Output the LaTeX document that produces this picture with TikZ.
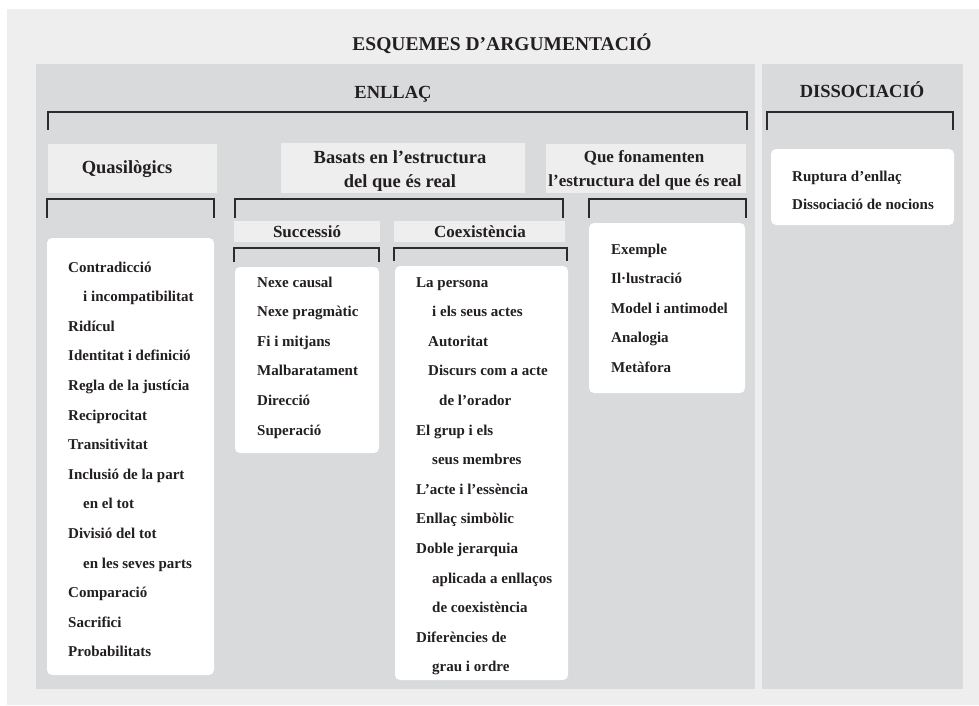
\documentclass[tikz,border=0pt]{standalone}
\usepackage{fontspec}
\setmainfont{Liberation Serif}
\usepackage{xcolor}
\definecolor{bgout}{HTML}{EEEEEE}
\definecolor{bgpanel}{HTML}{D9DADC}
\definecolor{bghead}{HTML}{EEEEEE}
\definecolor{ink}{HTML}{231F20}
\definecolor{brk}{HTML}{2B2B2B}

\begin{document}
\begin{tikzpicture}[x=1pt, y=-1pt,
  head/.style={font=\bfseries\fontsize{18.5}{22}\selectfont, text=ink, inner sep=0pt, anchor=base},
  subhead/.style={head, font=\bfseries\fontsize{17}{20}\selectfont},
  item/.style={font=\bfseries\fontsize{15}{18}\selectfont, text=ink, inner sep=0pt, anchor=base west},
  bracket/.style={draw=brk, line width=1.6pt},
  card/.style={fill=white, rounded corners=5}]
\useasboundingbox (0,0) rectangle (979,705);
% backgrounds
\fill[bgout] (7,9) rectangle (979,705);
\fill[bgpanel] (36,64) rectangle (755,689);
\fill[bgpanel] (762,64) rectangle (963,689);
\fill[bghead] (48,144) rectangle (217,193);
\fill[bghead] (281,143) rectangle (525,193);
\fill[bghead] (546,144) rectangle (746,193);
\fill[bghead] (234,221) rectangle (380,242);
\fill[bghead] (394,221) rectangle (565,242);
\fill[card] (47,238) rectangle (214,675);
\fill[card] (235,267) rectangle (379,453);
\fill[card] (395,266) rectangle (568,680);
\fill[card] (589,223) rectangle (745,393);
\fill[card] (771,149) rectangle (954,225);
% brackets
\draw[bracket] (48,130) |- (747,112) -- (747,130);
\draw[bracket] (767,130) |- (953,112) -- (953,130);
\draw[bracket] (47,218) |- (214,199) -- (214,218);
\draw[bracket] (235,218) |- (563,199) -- (563,218);
\draw[bracket] (589,218) |- (746,199) -- (746,218);
\draw[bracket] (234,262) |- (379,248) -- (379,262);
\draw[bracket] (394,261) |- (567,248) -- (567,261);
% headings
\node[head, font=\bfseries\fontsize{19.5}{22}\selectfont] (ttl) at (502,50) {ESQUEMES D’ARGUMENTACIÓ};
\node[head] (enl) at (393,98) {ENLLAÇ};
\node[head] (dis) at (862,97) {DISSOCIACIÓ};
\node[head] (quasi) at (127,173) {Quasilògics};
\node[head] (basats) at (400,163) {Basats en l’estructura};
\node[head] (basatsb) at (400,187) {del que és real};
\node[subhead] (fonam) at (644,162) {Que fonamenten};
\node[subhead] (fonamb) at (645,186) {l’estructura del que és real};
\node[subhead] (succ) at (307,237) {Successió};
\node[subhead] (coex) at (480,237) {Coexistència};
% lists
\foreach \d/\t [count=\i from 0] in {0/Contradicció, 15/i incompatibilitat, 0/Ridícul,
    0/Identitat i definició, 0/Regla de la justícia, 0/Reciprocitat, 0/Transitivitat,
    0/Inclusió de la part, 15/en el tot, 0/Divisió del tot, 15/en les seves parts,
    0/Comparació, 0/Sacrifici, 0/Probabilitats}
  \node[item] (q\i) at (68+\d, 272+29.6*\i) {\t};
\foreach \t [count=\i from 0] in {Nexe causal, Nexe pragmàtic, Fi i mitjans,
    Malbaratament, Direcció, Superació}
  \node[item] (s\i) at (257, 287+29.6*\i) {\t};
\foreach \d/\t [count=\i from 0] in {0/La persona, 16/i els seus actes, 12/Autoritat,
    12/Discurs com a acte, 23/de l’orador, 0/El grup i els, 16/seus membres,
    0/L’acte i l’essència, 0/Enllaç simbòlic, 0/Doble jerarquia,
    16/aplicada a enllaços, 16/de coexistència, 0/Diferències de, 16/grau i ordre}
  \node[item] (c\i) at (416+\d, 287+29.6*\i) {\t};
\foreach \t [count=\i from 0] in {Exemple, Il·lustració, Model i antimodel,
    Analogia, Metàfora}
  \node[item] (f\i) at (611, 254+29.6*\i) {\t};
\node[item] (d0) at (792,181) {Ruptura d’enllaç};
\node[item] (d1) at (792,209) {Dissociació de nocions};
\end{tikzpicture}
\end{document}
